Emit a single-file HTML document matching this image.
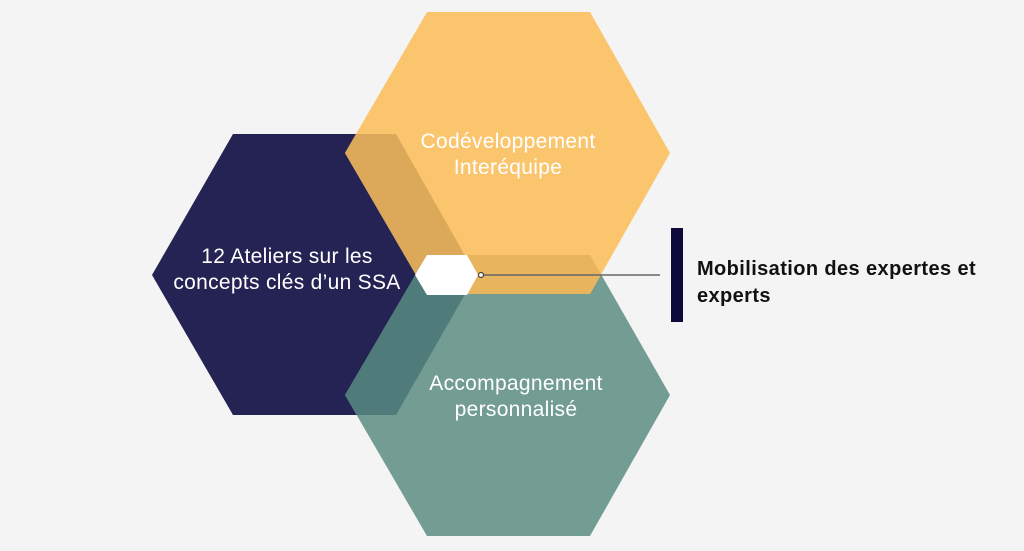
<!DOCTYPE html>
<html><head><meta charset="utf-8"><style>
html,body{margin:0;padding:0;background:#f4f4f4;}
svg{display:block;}
text{font-family:"Liberation Sans","DejaVu Sans",sans-serif;}
</style></head><body>
<svg width="1024" height="551" viewBox="0 0 1024 551" xmlns="http://www.w3.org/2000/svg">
<defs>
<clipPath id="cn"><polygon points="152,275 233,134 396,134 476,275 396,415 233,415"/></clipPath>
<clipPath id="cg"><polygon points="345,395 427,255 590,255 670,395 590,536 427,536"/></clipPath>
</defs>
<rect width="1024" height="551" fill="#f4f4f4"/>
<polygon points="152,275 233,134 396,134 476,275 396,415 233,415" fill="#252354"/>
<polygon points="345,395 427,255 590,255 670,395 590,536 427,536" fill="#739d92"/>
<polygon points="345,395 427,255 590,255 670,395 590,536 427,536" fill="#4f7c7a" clip-path="url(#cn)"/>
<polygon points="345,153 427,12 590,12 670,153 590,294 427,294" fill="#fac56d"/>
<polygon points="345,153 427,12 590,12 670,153 590,294 427,294" fill="#dca95a" clip-path="url(#cn)"/>
<polygon points="345,153 427,12 590,12 670,153 590,294 427,294" fill="#e9b45e" clip-path="url(#cg)"/>
<polygon points="415,275 427,255 467,255 478,275 467,295 427,295" fill="#ffffff"/>
<line x1="483" y1="275" x2="660" y2="275" stroke="#666" stroke-width="1.5"/>
<circle cx="481" cy="275" r="2.5" fill="#fff" stroke="#444" stroke-width="1.2"/>
<rect x="671" y="228" width="12" height="94" fill="#0e0b3a"/>
<g fill="#fff" font-size="21" text-anchor="middle" letter-spacing="0.3">
<text x="287" y="263">12 Ateliers sur les</text>
<text x="287" y="289">concepts clés d’un SSA</text>
<text x="508" y="148">Codéveloppement</text>
<text x="508" y="174">Interéquipe</text>
<text x="516" y="390">Accompagnement</text>
<text x="516" y="416">personnalisé</text>
</g>
<g fill="#111" font-size="20" font-weight="bold" letter-spacing="0.4">
<text x="697" y="275">Mobilisation des expertes et</text>
<text x="697" y="302">experts</text>
</g>
</svg>
</body></html>
